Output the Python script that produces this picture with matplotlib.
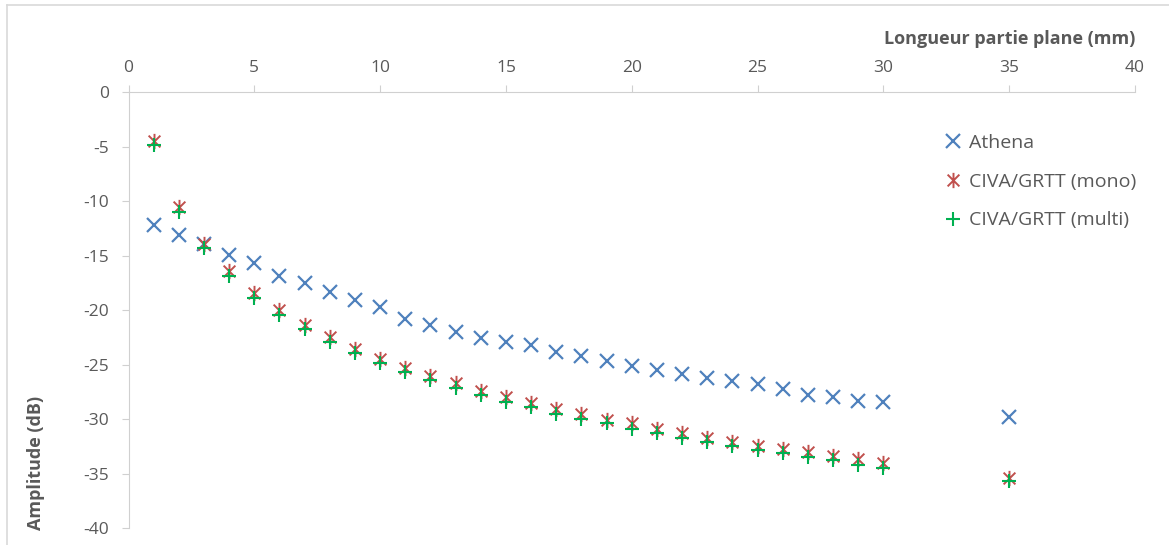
import matplotlib.pyplot as plt
from matplotlib.path import Path
from matplotlib.lines import Line2D

plt.rcParams['font.family'] = ['Open Sans', 'DejaVu Sans']
plt.rcParams['axes.unicode_minus'] = False

# x positions (mm)
x_pos = list(range(1, 31)) + [35]

athena = [-12.2, -13.1, -13.9, -14.9, -15.7, -16.9, -17.5, -18.3, -19.1, -19.75,
          -20.8, -21.4, -22.0, -22.6, -22.9, -23.2, -23.8, -24.2, -24.65, -25.1,
          -25.5, -25.9, -26.2, -26.55, -26.8, -27.25, -27.75, -28.0, -28.3, -28.45,
          -29.8]
civa_mono = [-4.5, -10.5, -13.9, -16.45, -18.45, -19.97, -21.35, -22.5, -23.55, -24.5,
             -25.3, -26.0, -26.7, -27.4, -28.0, -28.5, -29.1, -29.55, -30.06, -30.4,
             -30.9, -31.3, -31.75, -32.1, -32.45, -32.75, -33.06, -33.4, -33.7, -34.0,
             -35.4]
civa_multi = [-4.85, -10.95, -14.3, -16.9, -18.9, -20.4, -21.75, -22.9, -23.95, -24.86,
              -25.7, -26.4, -27.15, -27.8, -28.4, -28.9, -29.5, -29.97, -30.4, -30.9,
              -31.3, -31.7, -32.15, -32.5, -32.8, -33.1, -33.5, -33.8, -34.2, -34.5,
              -35.7]

x_ticks = [0, 5, 10, 15, 20, 25, 30, 35, 40]
y_ticks = [0, -5, -10, -15, -20, -25, -30, -35, -40]

# excel-style star marker (x with a vertical bar)
star = Path([(-1, -1), (1, 1), (-1, 1), (1, -1), (0, -1.3), (0, 1.3)],
            [Path.MOVETO, Path.LINETO, Path.MOVETO, Path.LINETO, Path.MOVETO, Path.LINETO])

fig = plt.figure(figsize=(11.69, 5.45), dpi=100)
ax = fig.add_axes([128.5 / 1169, 17 / 545, 1006.5 / 1169, 435.7 / 545])

ax.plot(x_pos, athena, linestyle='none', marker='x', markersize=10, markeredgewidth=1.6,
        color='#4F81BD', label='Athena')
ax.plot(x_pos, civa_mono, linestyle='none', marker=star, markersize=11, markeredgewidth=1.4,
        color='#C0504D', label='CIVA/GRTT (mono)')
ax.plot(x_pos, civa_multi, linestyle='none', marker='+', markersize=10, markeredgewidth=1.5,
        color='#00B050', label='CIVA/GRTT (multi)')

ax.set_xlim(0, 40)
ax.set_ylim(-40, 0)
ax.set_xticks(x_ticks)
ax.set_yticks(y_ticks)
ax.xaxis.tick_top()
ax.xaxis.set_label_position('top')

for s in ['right', 'bottom']:
    ax.spines[s].set_visible(False)
ax.spines['top'].set_color('#D0D0D0')
ax.spines['left'].set_color('#D0D0D0')
ax.tick_params(axis='both', direction='out', length=5, color='#D0D0D0',
               labelcolor='#595959', labelsize=12.5)
ax.tick_params(axis='x', pad=7)
ax.tick_params(axis='y', pad=9)

ax.set_xlabel('Longueur partie plane (mm)', fontsize=13, fontweight='bold', color='#595959')
ax.xaxis.set_label_coords(1.0, 1.11)
ax.xaxis.label.set_horizontalalignment('right')
ax.set_ylabel('Amplitude (dB)', fontsize=13, fontweight='bold', color='#595959')
ax.yaxis.set_label_coords(-0.083, 0.15)

ax.legend(loc='upper left', bbox_to_anchor=(928 / 1169, 1 - 116 / 545),
          bbox_transform=fig.transFigure, frameon=False, fontsize=14,
          labelcolor='#595959', handlelength=0.8, handletextpad=0.4, labelspacing=1.08)

# chart area border (top and left edges visible)
fig.add_artist(Line2D([7 / 1169, 1], [1 - 5 / 545, 1 - 5 / 545], color='#D9D9D9', lw=1.2))
fig.add_artist(Line2D([7 / 1169, 7 / 1169], [0, 1 - 5 / 545], color='#D9D9D9', lw=1.2))

fig.savefig('out.png', dpi=100)
